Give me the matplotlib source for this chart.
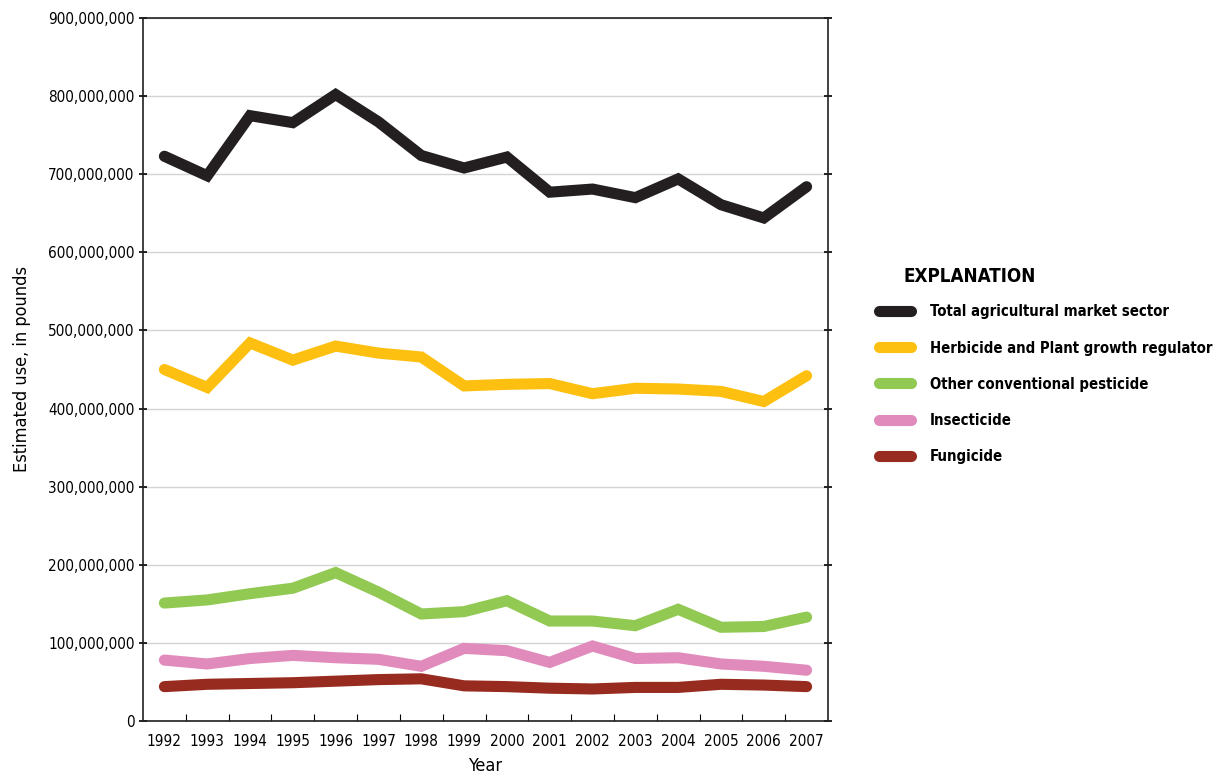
import numpy as np
import matplotlib
matplotlib.use('Agg')
from matplotlib import pyplot as plt
from matplotlib.ticker import FuncFormatter, MultipleLocator

plt.rcParams['font.family'] = ['DejaVu Sans']
plt.rcParams['font.stretch'] = 'condensed'

years = np.arange(1992, 2008)
total = [723, 698, 775, 766, 802, 767, 724, 708, 722, 677, 681, 670, 694, 661, 644, 684]
herbicide = [450, 427, 484, 462, 480, 471, 466, 429, 431, 432, 419, 426, 425, 422, 409, 442]
other = [151, 155, 163, 170, 190, 165, 137, 140, 154, 128, 128, 122, 143, 120, 121, 133]
insecticide = [78, 73, 80, 84, 81, 79, 70, 93, 90, 75, 96, 80, 81, 73, 70, 65]
fungicide = [44, 47, 48, 49, 51, 53, 54, 45, 44, 42, 41, 43, 43, 47, 46, 44]

names = ['Total agricultural market sector', 'Herbicide and Plant growth regulator',
         'Other conventional pesticide', 'Insecticide', 'Fungicide']
series = [total, herbicide, other, insecticide, fungicide]
colors = ['#231f20', '#fdc010', '#92c953', '#e08bbc', '#982b1f']

fig = plt.figure(figsize=(12.17, 7.73), dpi=100)
ax = fig.add_axes([143/1217, 52/773, (828-143)/1217, (721-18)/773])

for vals, name, c in zip(series, names, colors):
    ax.plot(years, np.array(vals)*1e6, color=c, lw=8, label=name,
            solid_capstyle='round', solid_joinstyle='miter', zorder=3)

ax.set_xlim(1991.5, 2007.5)
ax.set_ylim(0, 9e8)
ax.yaxis.set_major_locator(MultipleLocator(1e8))
ax.yaxis.set_major_formatter(FuncFormatter(lambda v, p: f'{int(v):,}'))
ax.set_xticks(years)
ax.set_xticklabels([str(y) for y in years])
ax.set_xticks(np.arange(1992.5, 2007, 1), minor=True)
ax.tick_params(axis='x', which='major', length=0, labelsize=11, pad=9)
ax.tick_params(axis='x', which='minor', direction='in', length=5, width=0.8)
ax.tick_params(axis='y', which='major', direction='inout', length=6, width=1.2,
               labelsize=11, right=True, left=True, pad=3)
ax.grid(axis='y', color='#d4d4d4', lw=1, zorder=0)
for s in ax.spines.values():
    s.set_linewidth(1.2)
    s.set_color('#231f20')

ax.set_xlabel('Year', fontsize=13, labelpad=6)
ax.set_ylabel('Estimated use, in pounds', fontsize=13, labelpad=12)

leg = fig.legend(loc='upper left', bbox_to_anchor=(866/1217, 1 - 254/773), frameon=False,
                 title='EXPLANATION', handlelength=2.1, handletextpad=1.3,
                 labelspacing=1.42, prop={'size': 10.7, 'weight': 'bold'},
                 title_fontproperties={'size': 13.5, 'weight': 'bold'})
leg._legend_box.align = 'left'
leg._legend_box.sep = 13
leg.get_title().set_position((24, 0))
for line in leg.get_lines():
    line.set_linewidth(8)
    line.set_solid_capstyle('round')

fig.savefig('out.png', dpi=100)
